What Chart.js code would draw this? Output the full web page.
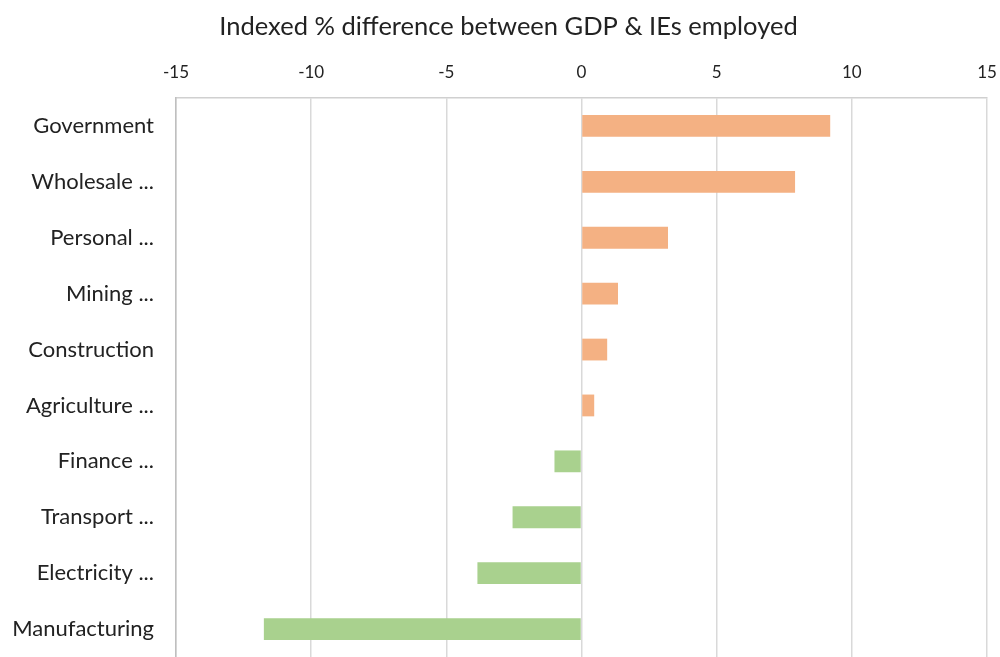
<!DOCTYPE html>
<html>
<head>
<meta charset="utf-8">
<script src="https://cdn.jsdelivr.net/npm/chart.js@4/dist/chart.umd.min.js"></script>
<style>
  html, body { margin: 0; padding: 0; background: #fff; overflow: hidden; }
  canvas { display: block; }
</style>
</head>
<body>
<canvas id="gdpChart" width="1000" height="657"></canvas>
<script>
// Datos del gráfico
const sectors = ['Government', 'Wholesale ...', 'Personal ...', 'Mining ...', 'Construction',
                 'Agriculture ...', 'Finance ...', 'Transport ...', 'Electricity ...', 'Manufacturing'];
const diffValues = [9.2, 7.9, 3.2, 1.35, 0.95, 0.47, -1.0, -2.55, -3.85, -11.75];
const xTicks = [-15, -10, -5, 0, 5, 10, 15];

const posColor = '#F4B183';
const negColor = '#A9D18E';

const fontFamily = 'Lato, "Open Sans", sans-serif';

// Desplaza el título un poco a la derecha, como en el original
const shiftTitle = {
  id: 'shiftTitle',
  afterLayout(chart) {
    if (chart.titleBlock) {
      chart.titleBlock.left += 15;
      chart.titleBlock.right += 15;
    }
  }
};

new Chart(document.getElementById('gdpChart'), {
  type: 'bar',
  data: {
    labels: sectors,
    datasets: [{
      data: diffValues,
      backgroundColor: diffValues.map(v => v >= 0 ? posColor : negColor),
      borderWidth: 0,
      barPercentage: 0.39,
      categoryPercentage: 1.0
    }]
  },
  options: {
    indexAxis: 'y',
    responsive: false,
    animation: false,
    layout: { padding: { left: 0, right: 13, top: 0, bottom: 0 } },
    plugins: {
      legend: { display: false },
      tooltip: { enabled: false },
      title: {
        display: true,
        text: 'Indexed % difference between GDP & IEs employed',
        color: '#222',
        font: { family: fontFamily, size: 25.5, weight: 'normal' },
        padding: { top: 11, bottom: 6 }
      }
    },
    scales: {
      x: {
        position: 'top',
        min: xTicks[0],
        max: xTicks[xTicks.length - 1],
        afterBuildTicks: axis => { axis.ticks = xTicks.map(v => ({ value: v })); },
        afterFit: axis => { axis.paddingLeft = 0; axis.paddingRight = 0; },
        ticks: {
          color: '#222',
          font: { family: fontFamily, size: 17 },
          padding: 15
        },
        grid: { color: '#D9D9D9', lineWidth: 1.5, drawTicks: false },
        border: { display: true, color: '#D0D0D0', width: 1.5 }
      },
      y: {
        afterFit: axis => { axis.width = 176; axis.paddingTop = 0; axis.paddingBottom = 0; },
        ticks: {
          color: '#222',
          font: { family: fontFamily, size: 22 },
          padding: 22
        },
        grid: { display: false, drawTicks: false },
        border: { display: true, color: '#BFBFBF', width: 1.5 }
      }
    }
  },
  plugins: [shiftTitle]
});
</script>
</body>
</html>
